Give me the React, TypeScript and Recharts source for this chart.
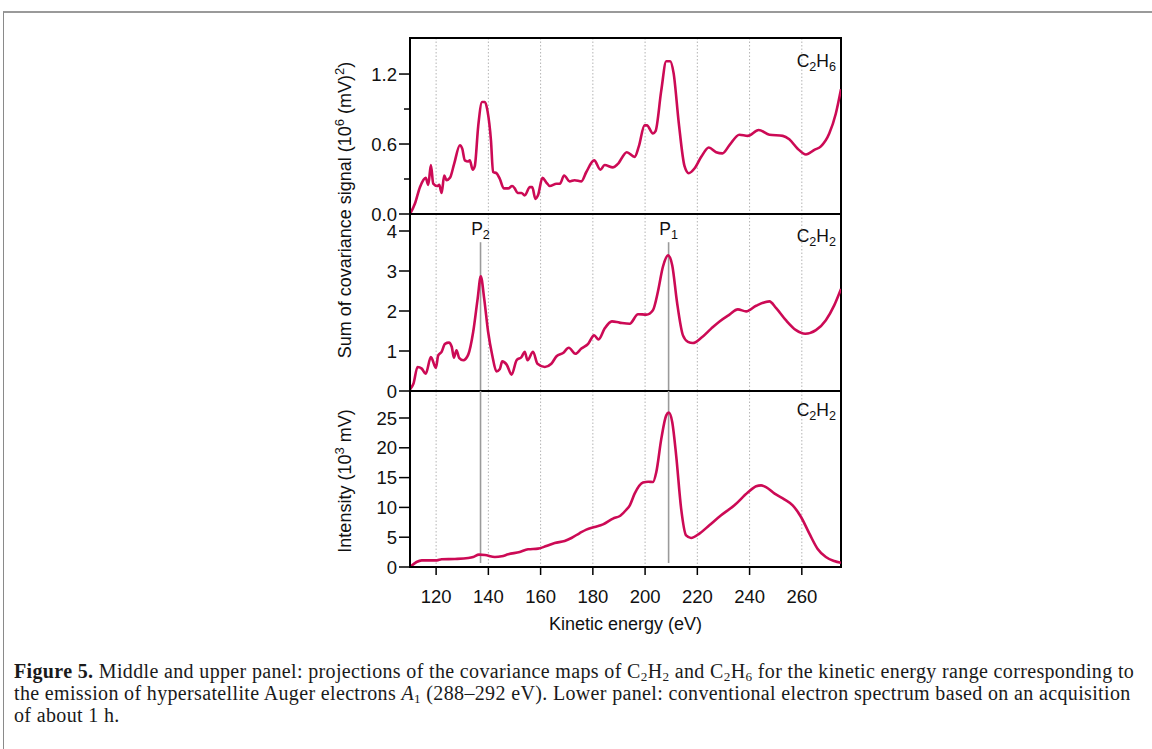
import {
  LineChart,
  Line,
  XAxis,
  YAxis,
  CartesianGrid,
  ReferenceLine,
  ReferenceArea,
} from "recharts";

// ---- style ----
const FONT = "'Liberation Sans', Arial, Helvetica, sans-serif";
const SERIF = "'Liberation Serif', 'Times New Roman', serif";
const RED = "#cc0a55";
const GRID = "#b4b4b4";
const MARKER = "#9a9a9a";
const AXIS_W = 60; // y-axis width inside each chart
const PLOT_W = 431;
const CHART_LEFT = 350;
const FS = 18.5;

// ---- data ----
const energyRange = [110, 275];
const energyTicks = [120, 140, 160, 180, 200, 220, 240, 260];

// upper panel: covariance projection, C2H6 (10^6 (mV)^2)
const c2h6Energy = [
  110, 111.9, 113.8, 116, 117, 118, 118.9, 120.4, 121.2, 122.1, 123.1, 124, 125.3,
  126.9, 129.1, 130, 131, 132.3, 132.9, 134, 134.8, 136.1, 137.6, 138.7, 139.7, 141,
  141.8, 143.1, 144.4, 145.9, 147.6, 149.1, 150.1, 151.2, 152.7, 153.9, 155.9, 156.8,
  158, 159, 160.7, 162.2, 163.5, 166.1, 167.4, 169, 171.1, 173, 175.6, 177.5, 180.5,
  182.9, 184.5, 187.7, 189.6, 193, 196, 197.6, 199.8, 200.7, 203, 204, 206.2, 208.1,
  209.6, 210.9, 212.9, 215.1, 216.7, 218.9, 221.5, 224.4, 227.2, 229.6, 232.3, 236.1,
  239.3, 243.5, 247.6, 252.7, 255.2, 258.4, 261.6, 264.8, 267.3, 270.5, 273, 275,
];
const c2h6Signal = [
  0, 0.09, 0.23, 0.31, 0.25, 0.42, 0.26, 0.24, 0.25, 0.18, 0.33, 0.29, 0.31,
  0.43, 0.59, 0.56, 0.46, 0.45, 0.46, 0.38, 0.41, 0.75, 0.96, 0.96, 0.88, 0.63,
  0.36, 0.35, 0.3, 0.22, 0.22, 0.24, 0.22, 0.18, 0.18, 0.16, 0.23, 0.23,
  0.13, 0.16, 0.31, 0.27, 0.24, 0.26, 0.26, 0.33, 0.28, 0.29, 0.28, 0.36, 0.46,
  0.38, 0.42, 0.4, 0.43, 0.53, 0.49, 0.58, 0.76, 0.76, 0.69, 0.71, 1.06, 1.31,
  1.31, 1.21, 0.78, 0.41, 0.35, 0.39, 0.49, 0.57, 0.53, 0.52, 0.59, 0.68,
  0.67, 0.72, 0.68, 0.67, 0.64, 0.56, 0.51, 0.55, 0.58, 0.69, 0.86, 1.07,
];

// middle panel: covariance projection, C2H2
const c2h2Energy = [
  110, 111.3, 112.9, 114.5, 116, 118, 119.9, 120.8, 122.1, 123.4, 124.9, 126, 126.8,
  127.8, 128.8, 130.4, 132.3, 134.2, 135.9, 137.1, 138.4, 139.9, 141.5, 143.1, 144.4,
  145.3, 147, 148.9, 150.8, 152.7, 153.9, 155, 157.1, 158.8, 161.6, 164.1, 166.1,
  168.6, 170.8, 173.3, 175.6, 178.2, 180.5, 182.2, 184.5, 187.3, 190.2, 194.1, 197.3,
  200.5, 203, 204.9, 206.8, 208.8, 210.4, 212.2, 214.5, 216.4, 218.3, 221.5, 225.3,
  228.5, 232.3, 235.5, 238.7, 242.5, 247.6, 250.1, 253.9, 257.8, 261.3, 265.4, 269.2,
  272.4, 275,
];
const c2h2Signal = [
  0.04, 0.18, 0.6, 0.56, 0.43, 0.85, 0.58, 0.89, 0.98, 1.18, 1.21, 1.1, 0.83,
  1.02, 0.83, 0.77, 0.91, 1.48, 2.31, 2.87, 2.31, 1.48, 0.89, 0.49, 0.55,
  0.74, 0.66, 0.41, 0.77, 0.85, 0.98, 0.77, 0.98, 0.68, 0.6, 0.68, 0.87,
  0.95, 1.08, 0.93, 1.06, 1.18, 1.39, 1.29, 1.56, 1.74, 1.71, 1.68, 1.92,
  1.91, 2.02, 2.48, 3.1, 3.39, 3.14, 2.23, 1.39, 1.23, 1.2, 1.33, 1.56,
  1.74, 1.91, 2.04, 1.99, 2.13, 2.24, 2.08, 1.77, 1.52, 1.43, 1.52, 1.77,
  2.14, 2.55,
];

// lower panel: electron spectrum, C2H2 (10^3 mV)
const specEnergy = [
  110, 112.5, 114.5, 120.3, 122.1, 127.2, 132.3, 134.2, 136.4, 138.7, 142.5, 145.1,
  147.6, 152, 155.2, 159, 162.2, 165.4, 169.2, 171.8, 175, 177.5, 180.7, 183.9, 187.7,
  190.5, 192.8, 194.2, 196, 199.2, 201.2, 203, 204.3, 206.2, 208.1, 209.1, 210.4,
  211.9, 213.8, 215.7, 217.6, 220.8, 224.6, 229.1, 234.2, 239.3, 242.5, 244.4, 246.3,
  249.6, 253.3, 256.5, 259.7, 262.9, 266, 269.2, 272.4, 275,
];
const specIntensity = [
  0, 0.84, 1.12, 1.12, 1.29, 1.35, 1.51, 1.68, 2.08, 2.0, 1.68, 1.79,
  2.13, 2.52, 2.97, 3.08, 3.52, 4.03, 4.36, 4.87, 5.7, 6.27, 6.71, 7.16, 8.12,
  8.6, 9.6, 10.4, 12.3, 14.16, 14.3, 14.26, 15.94, 21.5, 25.45, 25.9, 24.3,
  18.7, 9.8, 5.3, 4.87, 5.6, 7.0, 8.67, 10.35, 12.48, 13.54, 13.7, 13.4,
  12.3, 11.36, 10.35, 8.39, 5.6, 3.08, 1.68, 1.0, 0.7,
];

// peak markers
const p2Energy = 137;
const p1Energy = 209;

const zip = (e: number[], v: number[]) => e.map((x, i) => ({ e: x, v: v[i] }));

function YTick(props: any) {
  const { y, payload, labels } = props;
  const label = labels[payload.value];
  const minor = label === undefined;
  return (
    <g>
      <line
        x1={AXIS_W - (minor ? 6 : 11)}
        x2={AXIS_W}
        y1={y}
        y2={y}
        stroke="#000"
        strokeWidth={1.5}
      />
      {!minor && (
        <text
          x={AXIS_W - 13}
          y={y}
          dy="0.36em"
          textAnchor="end"
          fontSize={FS}
          fontFamily={FONT}
          fill="#111"
        >
          {label}
        </text>
      )}
    </g>
  );
}

function Panel({
  top,
  plotH,
  data,
  yMax,
  yTicks,
  yLabels,
  bottom,
  markers,
}: {
  top: number;
  plotH: number;
  data: { e: number; v: number }[];
  yMax: number;
  yTicks: number[];
  yLabels: Record<string, string>;
  bottom?: boolean;
  markers?: { x: number; y1: number; y2: number }[];
}) {
  const xAxisH = bottom ? 40 : 2;
  const extra = bottom ? 0 : 12; // room for the lowest tick label
  return (
    <div style={{ position: "absolute", left: CHART_LEFT, top: top - 2 }}>
      <LineChart
        width={AXIS_W + PLOT_W + 4}
        height={2 + plotH + xAxisH + extra}
        data={data}
        margin={{ top: 2, right: 4, bottom: extra, left: 0 }}
      >
        <CartesianGrid
          horizontal={false}
          stroke={GRID}
          strokeDasharray="1.5 2"
        />
        <XAxis
          type="number"
          dataKey="e"
          domain={energyRange}
          ticks={energyTicks}
          interval={0}
          allowDataOverflow
          height={xAxisH}
          axisLine={{ stroke: "#000", strokeWidth: 2 }}
          tick={
            bottom
              ? { fontSize: FS, fill: "#111", fontFamily: FONT }
              : () => <g />
          }
          tickLine={bottom ? { stroke: "#000", strokeWidth: 1.5 } : false}
          tickSize={8}
          tickMargin={15}
        />
        <YAxis
          type="number"
          domain={[0, yMax]}
          ticks={yTicks}
          interval={0}
          allowDataOverflow
          width={AXIS_W}
          axisLine={{ stroke: "#000", strokeWidth: 2 }}
          tickLine={false}
          tick={(p: any) => <YTick {...p} labels={yLabels} />}
        />
        {(markers || []).map((m, i) => (
          <ReferenceLine
            key={i}
            segment={[
              { x: m.x, y: m.y1 },
              { x: m.x, y: m.y2 },
            ]}
            stroke={MARKER}
            strokeWidth={1.6}
          />
        ))}
        <Line
          type="monotone"
          dataKey="v"
          stroke={RED}
          strokeWidth={2.6}
          dot={false}
          isAnimationActive={false}
        />
        <ReferenceArea
          x1={energyRange[0]}
          x2={energyRange[1]}
          y1={0}
          y2={yMax}
          fill="none"
          stroke="#000"
          strokeWidth={2}
        />
      </LineChart>
    </div>
  );
}

const SUB: React.CSSProperties = {
  fontSize: "0.72em",
  verticalAlign: "-0.3em",
  lineHeight: 0,
};
const SUP: React.CSSProperties = {
  fontSize: "0.72em",
  verticalAlign: "0.55em",
  lineHeight: 0,
};
const CAP_SUB: React.CSSProperties = {
  fontSize: "0.66em",
  verticalAlign: "-0.2em",
  lineHeight: 0,
};

const molLabel = (top: number, a: string, b: string) => (
  <div
    style={{
      position: "absolute",
      left: 736,
      width: 100,
      top,
      textAlign: "right",
      fontFamily: FONT,
      fontSize: 17.5,
      lineHeight: "20px",
      color: "#111",
    }}
  >
    C<sub style={SUB}>{a}</sub>H<sub style={SUB}>{b}</sub>
  </div>
);

const peakLabel = (cx: number, n: string) => (
  <div
    style={{
      position: "absolute",
      left: cx - 30,
      width: 60,
      top: 219,
      textAlign: "center",
      fontFamily: FONT,
      fontSize: 17.5,
      lineHeight: "20px",
      color: "#111",
    }}
  >
    P<sub style={SUB}>{n}</sub>
  </div>
);

const xOf = (e: number) =>
  CHART_LEFT + AXIS_W + ((e - energyRange[0]) / (energyRange[1] - energyRange[0])) * PLOT_W;

export default function App() {
  return (
    <div
      style={{
        position: "absolute",
        left: 0,
        top: 0,
        width: 1152,
        height: 749,
        overflow: "hidden",
        background: "#fff",
        fontFamily: FONT,
      }}
    >
      {/* figure frame */}
      <div
        style={{
          position: "absolute",
          left: 3,
          top: 11,
          width: 1200,
          height: 800,
          borderTop: "2px solid #9a9a9a",
          borderLeft: "1.5px solid #8a8a8a",
        }}
      />

      <Panel
        top={38}
        plotH={176}
        data={zip(c2h6Energy, c2h6Signal)}
        yMax={1.509}
        yTicks={[0, 0.3, 0.6, 0.9, 1.2]}
        yLabels={{ 0: "0.0", 0.6: "0.6", 1.2: "1.2" }}
      />
      <Panel
        top={214}
        plotH={177}
        data={zip(c2h2Energy, c2h2Signal)}
        yMax={4.425}
        yTicks={[0, 1, 2, 3, 4]}
        yLabels={{ 0: "0", 1: "1", 2: "2", 3: "3", 4: "4" }}
        markers={[
          { x: p2Energy, y1: 0, y2: 3.72 },
          { x: p1Energy, y1: 0, y2: 3.72 },
        ]}
      />
      <Panel
        top={391}
        plotH={176}
        data={zip(specEnergy, specIntensity)}
        yMax={29.53}
        yTicks={[0, 5, 10, 15, 20, 25]}
        yLabels={{ 0: "0", 5: "5", 10: "10", 15: "15", 20: "20", 25: "25" }}
        bottom
        markers={[
          { x: p2Energy, y1: 0.67, y2: 29.53 },
          { x: p1Energy, y1: 0.67, y2: 29.53 },
        ]}
      />

      {molLabel(51, "2", "6")}
      {molLabel(226, "2", "2")}
      {molLabel(400, "2", "2")}
      {peakLabel(xOf(p2Energy), "2")}
      {peakLabel(xOf(p1Energy), "1")}

      {/* axis titles */}
      <div
        style={{
          position: "absolute",
          left: 145,
          top: 200,
          width: 400,
          height: 20,
          lineHeight: "20px",
          textAlign: "center",
          fontSize: 18,
          color: "#111",
          transform: "rotate(-90deg)",
          whiteSpace: "nowrap",
        }}
      >
        Sum of covariance signal (10<sup style={SUP}>6</sup> (mV)
        <sup style={SUP}>2</sup>)
      </div>
      <div
        style={{
          position: "absolute",
          left: 145,
          top: 471,
          width: 400,
          height: 20,
          lineHeight: "20px",
          textAlign: "center",
          fontSize: 18,
          color: "#111",
          transform: "rotate(-90deg)",
          whiteSpace: "nowrap",
        }}
      >
        Intensity (10<sup style={SUP}>3</sup> mV)
      </div>
      <div
        style={{
          position: "absolute",
          left: xOf(192.5) - 150,
          width: 300,
          top: 614,
          lineHeight: "20px",
          textAlign: "center",
          fontSize: 18,
          color: "#111",
        }}
      >
        Kinetic energy (eV)
      </div>

      {/* caption */}
      <div
        style={{
          position: "absolute",
          left: 14,
          top: 660,
          fontFamily: SERIF,
          fontSize: 20,
          letterSpacing: "0.35px",
          lineHeight: "22px",
          color: "#1a1a1a",
          whiteSpace: "nowrap",
        }}
      >
        <div>
          <b>Figure 5.</b> Middle and upper panel: projections of the covariance maps of C
          <sub style={CAP_SUB}>2</sub>H<sub style={CAP_SUB}>2</sub> and C
          <sub style={CAP_SUB}>2</sub>H<sub style={CAP_SUB}>6</sub> for the kinetic energy
          range corresponding to
        </div>
        <div>
          the emission of hypersatellite Auger electrons <i>A</i>
          <sub style={CAP_SUB}>1</sub> (288–292 eV). Lower panel: conventional electron
          spectrum based on an acquisition
        </div>
        <div>of about 1 h.</div>
      </div>
    </div>
  );
}
